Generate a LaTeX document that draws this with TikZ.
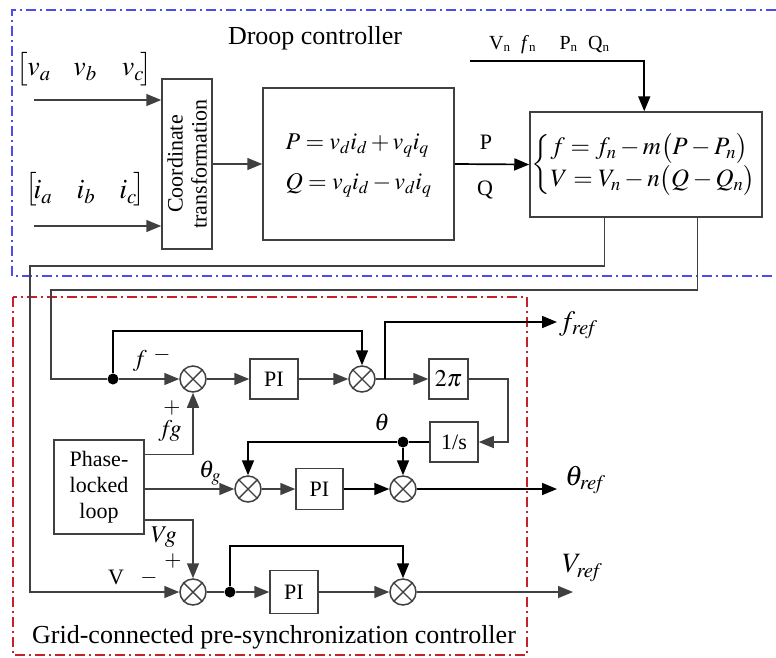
\documentclass[tikz,border=0pt]{standalone}
\usepackage{mathptmx}
\usepackage{fontspec}
\setmainfont{Liberation Serif}
\usetikzlibrary{arrows.meta,calc}
\definecolor{ln}{HTML}{404040}
\definecolor{bluebox}{HTML}{4B4BF2}
\definecolor{redbox}{HTML}{C8202A}
\newcommand{\subn}{\raisebox{-2pt}{\fontsize{13}{13}\selectfont n}}
\begin{document}
\begin{tikzpicture}[x=1pt,y=-1pt,
  blk/.style={draw=ln,line width=1.5pt,fill=white,inner sep=0pt},
  sumx/.style={circle,draw=ln,line width=1.5pt,minimum size=26pt,inner sep=0pt},
  gl/.style={draw=ln,line width=1.5pt},
  bl/.style={draw=black,line width=1.7pt},
  arr/.style={-{Triangle[length=15pt,width=12pt]}},
  jdot/.style={circle,fill=black,inner sep=0pt,minimum size=11pt},
  txt/.style={font=\fontsize{22}{26}\selectfont,inner sep=0pt},
  eq/.style={font=\fontsize{24}{28}\selectfont,inner sep=0pt},
  big/.style={font=\fontsize{26}{30}\selectfont,inner sep=0pt},
  vec/.style={font=\fontsize{28}{30}\selectfont,inner sep=0pt},
]
\useasboundingbox (0,0) rectangle (776,657);

% group frames
\draw[bluebox,line width=1.2pt,dash pattern=on 10pt off 4pt on 2pt off 4pt]
  (776,10) -- (12,10) -- (12,276) -- (776,276);
\draw[redbox,line width=1.2pt,dash pattern=on 10pt off 4pt on 2pt off 4pt]
  (13,297) rectangle (527,655);

\node[big] at (315,38) {Droop controller};
\node[big] at (274,637) {Grid-connected pre-synchronization controller};

% droop controller blocks
\node[blk,minimum width=50pt,minimum height=170pt] (ct) at (187,164) {};
\node[txt,rotate=90,align=center,font=\fontsize{22}{24}\selectfont] at (ct) {Coordinate\\transformation};
\node[blk,minimum width=191pt,minimum height=152pt] (pq) at (358.5,164) {};
\node[eq] at (pq) {$\begin{array}{@{}l@{}} P = v_d i_d + v_q i_q\\[12pt] Q = v_q i_d - v_d i_q\end{array}$};
\node[blk,minimum width=232pt,minimum height=105pt] (dr) at (646,164.5) {};
\node[eq,font=\fontsize{25}{29}\selectfont] at ($(dr)+(-2,0)$) {$\left\{\begin{array}{@{}l@{}} f = f_n - m\bigl(P-P_n\bigr)\\[2pt] V = V_n - n\bigl(Q-Q_n\bigr)\end{array}\right.$};

% three-phase input vectors
\node[vec] at (22,69) {$\bigl[$};
\node[vec] at (39,72) {$v_a$};
\node[vec] at (85,72) {$v_b$};
\node[vec] at (133,72) {$v_c$};
\node[vec] at (146,69) {$\bigr]$};
\node[vec] at (31,189) {$\bigl[$};
\node[vec] at (43,192) {$i_a$};
\node[vec] at (86,192) {$i_b$};
\node[vec] at (128,192) {$i_c$};
\node[vec] at (139,189) {$\bigr]$};
\coordinate (va) at (34,100);
\coordinate (ia) at (34,226);
\draw[gl,arr] (va) -- (va -| ct.west);
\draw[gl,arr] (ia) -- (ia -| ct.west);
\draw[gl,arr] (ct.east) -- (pq.west);
\draw[bl,arr] (pq.east) -- (dr.west);
\node[txt] at (486,142) {P};
\node[txt] at (485,190) {Q};

\node[inner sep=0pt,font=\fontsize{20}{22}\selectfont,anchor=west] at (489,45)
  {V\subn\hspace{11pt}\textit{f}\subn\hspace{24pt}P\subn\hspace{11pt}Q\subn};
\coordinate (vn) at (470,61);
\draw[bl,arr] (vn) -| ($(dr.north west)+(115,0)$);

% pre-synchronization blocks
\node[sumx] (s1) at (193,379) {};
\node[sumx] (s2) at (362,379) {};
\node[sumx] (s3) at (248,489) {};
\node[sumx] (s4) at (403,489) {};
\node[sumx] (s5) at (193,592) {};
\node[sumx] (s6) at (403,592) {};
\foreach \s in {s1,s2,s3,s4,s5,s6}{
  \draw[ln,line width=1.4pt] (\s.north east) -- (\s.south west)
                              (\s.north west) -- (\s.south east);}

\node[blk,txt,minimum width=48pt,minimum height=40pt] (pi1) at (274,379) {PI};
\node[blk,txt,minimum width=39pt,minimum height=40pt,font=\fontsize{24}{26}\selectfont] (tpi) at (448.5,379) {$2\pi$};
\node[blk,txt,minimum width=48pt,minimum height=40pt] (inv) at (454,442) {1/s};
\node[blk,txt,minimum width=47pt,minimum height=41pt] (pi2) at (319.5,489) {PI};
\node[blk,txt,minimum width=48pt,minimum height=43pt] (pi3) at (294,592) {PI};
\node[blk,txt,align=center,minimum width=90pt,minimum height=94pt] (pll) at (99,487)
  {Phase-\\locked\\loop};

\node[jdot] (jd1) at (113,379) {};
\node[jdot] (jd2) at (403,442) {};
\node[jdot] (jd3) at (230,592) {};
\coordinate (fref) at (557,322);
\coordinate (thref) at (557,489);
\coordinate (vref) at (573,592);

% feedback from droop controller
\draw[gl,arr] ($(dr.south west)+(75,0)$) |- (30,266) |- (s5.west);
\draw[gl] ($(dr.south west)+(168,0)$) |- (51,290) |- (jd1);
\draw[gl,arr] (jd1) -- (s1.west);

% frequency path
\draw[bl,arr] (jd1) -- ++(0,-48) -| (s2.north);
\draw[gl,arr] (s1.east) -- (pi1.west);
\draw[gl,arr] (pi1.east) -- (s2.west);
\draw[gl,arr] (s2.east) -- (tpi.west);
\draw[bl,arr] ($(s2.east)+(9,0)$) |- (fref);
\draw[gl,arr] (tpi.east) -- ++(39,0) |- (inv.east);
\draw[gl,arr] ($(pll.north east)+(0,15)$) -| (s1.south);

% phase path
\draw[bl] (inv.west) -- (jd2);
\draw[bl,arr] (jd2) -| (s3.north);
\draw[bl,arr] (jd2) -- (s4.north);
\draw[gl,arr] (s3.west -| pll.east) -- (s3.west);
\draw[gl,arr] (s3.east) -- (pi2.west);
\draw[bl,arr] (pi2.east) -- (s4.west);
\draw[bl,arr] (s4.east) -- (thref);

% voltage path
\draw[gl,arr] ($(pll.south east)+(0,-15)$) -| (s5.north);
\draw[gl] (s5.east) -- (jd3);
\draw[gl,arr] (jd3) -- (pi3.west);
\draw[bl,arr] (jd3) -- ++(0,-46) -| (s6.north);
\draw[gl,arr] (pi3.east) -- (s6.west);
\draw[gl,arr] (s6.east) -- (vref);

% signal labels
\node[txt,font=\fontsize{24}{26}\selectfont] at (140,361) {$f$};
\node[txt] at (162,355) {$-$};
\node[txt] at (172,408) {$+$};
\node[txt,font=\fontsize{24}{26}\selectfont] at (170,431) {$f\!g$};
\node[txt,font=\fontsize{24}{26}\selectfont] at (210,473) {$\theta_g$};
\node[txt,font=\fontsize{24}{26}\selectfont] at (382,422) {$\theta$};
\node[txt,font=\fontsize{24}{26}\selectfont] at (164,537) {$V\!g$};
\node[txt] at (173,561) {$+$};
\node[txt] at (116,577) {V};
\node[txt] at (149,578) {$-$};
\node[vec,anchor=west] at (559,325) {$f_{\mathit{ref}}$};
\node[vec,anchor=west] at (565,480) {$\theta_{\mathit{ref}}$};
\node[vec,anchor=west] at (562,568) {$V_{\mathit{ref}}$};
\end{tikzpicture}
\end{document}
